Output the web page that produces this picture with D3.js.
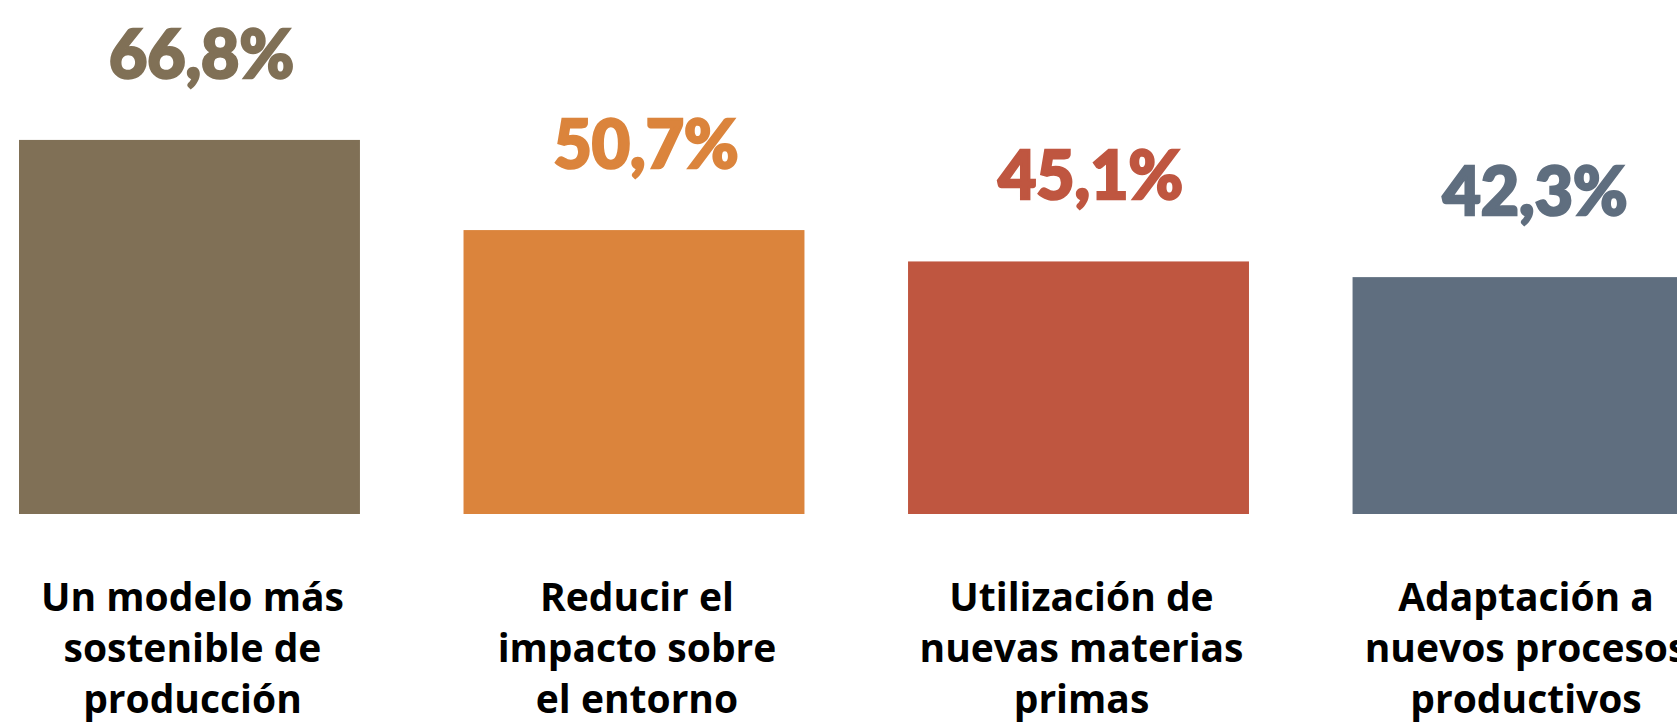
<!DOCTYPE html>
<html lang="es">
<head>
    <meta charset="UTF-8">
    <script src="https://d3js.org/d3.v7.min.js"></script>
    <title>Motivos</title>
    <style>
        body { margin: 0; background: #fff; }
    </style>
</head>
<body>
<svg class="chart"></svg>

<script>
    // data
    let categories = [
        ["Un modelo más", "sostenible de", "producción"],
        ["Reducir el", "impacto sobre", "el entorno"],
        ["Utilización de", "nuevas materias", "primas"],
        ["Adaptación a", "nuevos procesos", "productivos"]
    ];
    let values = [66.8, 50.7, 45.1, 42.3];
    let value_labels = ["66,8%", "50,7%", "45,1%", "42,3%"];
    let colors = ["#807056", "#db843c", "#bf5640", "#5f6e7f"];

    let chart_width = 1677;
    let chart_height = 724;
    let baseline = 514;

    let svg = d3.select('.chart');
    svg.attr('width', chart_width).attr('height', chart_height);

    var x_range = d3.scaleBand()
        .domain(d3.range(values.length))
        .range([19, 1693.5])
        .paddingInner(0.233)
        .paddingOuter(0);

    var y_range = d3.scaleLinear()
        .domain([0, 70])
        .range([baseline, baseline - 70 * 5.6]);

    // bars
    svg.selectAll("rect.bar")
        .data(values)
        .enter()
        .append("rect")
        .attr('class', 'bar')
        .attr('x', function (d, i) { return x_range(i); })
        .attr('width', x_range.bandwidth())
        .attr('y', function (d) { return y_range(d); })
        .attr('height', function (d) { return baseline - y_range(d); })
        .style('fill', function (d, i) { return colors[i]; });

    // value labels (stroke to make them look heavier)
    svg.selectAll("text.value")
        .data(values)
        .enter()
        .append("text")
        .attr('class', 'value')
        .attr('x', function (d, i) { return x_range(i) + x_range.bandwidth() / 2 + 12; })
        .attr('y', function (d) { return y_range(d) - 62; })
        .attr('text-anchor', 'middle')
        .style('font-family', 'Lato, "DejaVu Sans", sans-serif')
        .style('font-weight', 900)
        .style('font-size', '66px')
        .style('fill', function (d, i) { return colors[i]; })
        .style('stroke', function (d, i) { return colors[i]; })
        .style('stroke-width', 2.5)
        .text(function (d, i) { return value_labels[i]; });

    // category labels
    let cat = svg.selectAll("text.cat")
        .data(categories)
        .enter()
        .append("text")
        .attr('class', 'cat')
        .attr('text-anchor', 'middle')
        .style('font-family', '"Open Sans", "Noto Sans", sans-serif')
        .style('font-weight', 700)
        .style('font-size', '39px')
        .style('fill', '#000');

    cat.selectAll("tspan")
        .data(function (d, i) { return d.map(function (line) { return {line: line, i: i}; }); })
        .enter()
        .append("tspan")
        .attr('x', function (d) { return x_range(d.i) + x_range.bandwidth() / 2 + 3; })
        .attr('y', function (d, j) { return 611 + j * 51; })
        .text(function (d) { return d.line; });
</script>
</body>
</html>
